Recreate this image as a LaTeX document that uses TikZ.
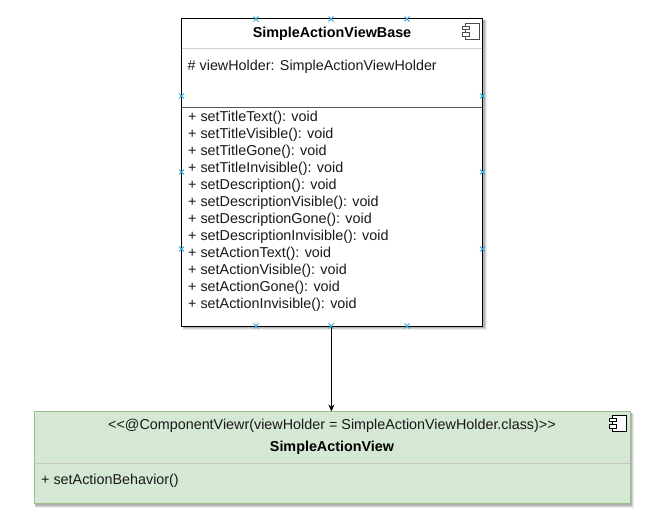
\documentclass[tikz,border=0pt]{standalone}
\usepackage{fontspec}
\setmainfont{Liberation Sans}
\usetikzlibrary{arrows.meta}
\definecolor{mk}{HTML}{29ABE2}
\definecolor{gfill}{HTML}{D5E8D4}
\definecolor{gline}{HTML}{9DBF8C}
\tikzset{
  umlbox/.style={draw=black,line width=1pt,fill=white,rectangle,inner sep=0pt,outer sep=0pt},
  greenbox/.style={draw=gline,line width=1pt,fill=gfill,rectangle,inner sep=0pt,outer sep=0pt},
  member/.style={anchor=west,inner sep=0pt,font=\fontsize{14.35}{16}\selectfont,text=black!90},
  title/.style={anchor=center,inner sep=0pt,font=\fontsize{14.35}{16}\selectfont\bfseries},
  stereo/.style={anchor=center,inner sep=0pt,font=\fontsize{14.35}{16}\selectfont,text=black!90},
  divider/.style={line width=1pt},
  xpt/.style={draw=mk,line width=1pt},
  comp/.style={line width=.9pt}
}
\newcommand{\softshadow}[4]{%
  \fill[black,opacity=.07] (#1+1,#2+1) rectangle (#3+4,#4+4);
  \fill[black,opacity=.10] (#1+1,#2+1) rectangle (#3+3,#4+3);
  \fill[black,opacity=.16] (#1+1,#2+1) rectangle (#3+2,#4+2);
}
\newcommand{\xmk}[2]{\draw[xpt] (#1-2.5,#2-2.5) -- (#1+2.5,#2+2.5) (#1-2.5,#2+2.5) -- (#1+2.5,#2-2.5);}
\newcommand{\compicon}[3]{%
  \draw[comp,draw=#3,fill=white] (#1+3,#2) rectangle (#1+17,#2+16);
  \draw[comp,draw=#3,fill=white] (#1,#2+3) rectangle (#1+7,#2+6.5);
  \draw[comp,draw=#3,fill=white] (#1,#2+9.5) rectangle (#1+7,#2+13);
}
\begin{document}
\begin{tikzpicture}[x=1pt,y=-1pt]
\useasboundingbox (0,0) rectangle (660,521);
% top class
\softshadow{181.5}{19}{482.5}{326}
\node[umlbox,minimum width=301pt,minimum height=307pt] (base) at (332,172.5) {};
\draw[black!18,divider] (182,49) -- (482,49);
\draw[black!65,divider] (182,107.5) -- (482,107.5);
\node[title] (basetitle) at (332,34) {SimpleActionViewBase};
\node[member] (attr) at (187.5,67) {\# viewHolder: SimpleActionViewHolder};
\node[member] (m1) at (188,118) {+ setTitleText(): void};
\node[member] (m2) at (188,135) {+ setTitleVisible(): void};
\node[member] (m3) at (188,152) {+ setTitleGone(): void};
\node[member] (m4) at (188,169) {+ setTitleInvisible(): void};
\node[member] (m5) at (188,186) {+ setDescription(): void};
\node[member] (m6) at (188,203) {+ setDescriptionVisible(): void};
\node[member] (m7) at (188,220) {+ setDescriptionGone(): void};
\node[member] (m8) at (188,237) {+ setDescriptionInvisible(): void};
\node[member] (m9) at (188,254) {+ setActionText(): void};
\node[member] (m10) at (188,271) {+ setActionVisible(): void};
\node[member] (m11) at (188,288) {+ setActionGone(): void};
\node[member] (m12) at (188,305) {+ setActionInvisible(): void};
% bottom class
\softshadow{34}{411.5}{630}{503.5}
\node[greenbox,minimum width=596pt,minimum height=92pt] (view) at (332,457.5) {};
\draw[black!22,divider] (34.5,463.5) -- (629.5,463.5);
\node[stereo] (st) at (332,426) {<{}<@ComponentViewr(viewHolder = SimpleActionViewHolder.class)>{}>};
\node[title] (viewtitle) at (332,448) {SimpleActionView};
\node[member] (vm) at (41,481) {+ setActionBehavior()};
% connector
\draw[-{Stealth[length=7pt,width=6pt]},line width=1pt] ([xshift=-.6pt]base.south) -- ([xshift=-.6pt]view.north);
% icons
\compicon{462}{23}{black!70}
\compicon{609}{415}{black}
% connection points
\xmk{256}{19}\xmk{331}{19}\xmk{407}{19}
\xmk{256}{326}\xmk{331}{326}\xmk{407}{326}
\xmk{181.5}{96}\xmk{482.5}{96}
\xmk{181.5}{172}\xmk{482.5}{172}
\xmk{181.5}{249}\xmk{482.5}{249}
\end{tikzpicture}
\end{document}
